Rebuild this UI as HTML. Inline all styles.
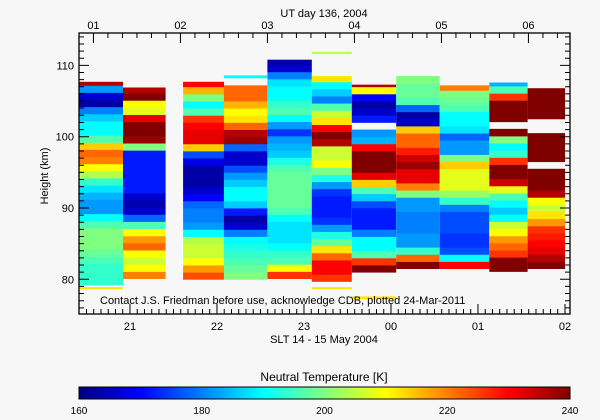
<!DOCTYPE html>
<html><head><meta charset="utf-8"><style>
body{margin:0;background:#f7f7f7;}
svg{display:block;font-family:"Liberation Sans",sans-serif;}
</style></head><body>
<svg id="chart" width="600" height="420" viewBox="0 0 600 420" xmlns="http://www.w3.org/2000/svg">
<rect width="600" height="420" fill="#f7f7f7"/>
<g id="cells"></g>
<g id="axes"></g>
<text x="100" y="304" font-size="11" fill="#000">Contact J.S. Friedman before use, acknowledge CDB, plotted 24-Mar-2011</text>
<text x="324" y="17" font-size="11" text-anchor="middle">UT day 136, 2004</text>
<text x="324" y="343" font-size="11" text-anchor="middle">SLT 14 - 15 May 2004</text>
<text x="48" y="176" font-size="11" text-anchor="middle" transform="rotate(-90 48 176)">Height (km)</text>
<text x="324" y="381" font-size="12" text-anchor="middle">Neutral Temperature [K]</text>
<defs><linearGradient id="jet" x1="0" x2="1" y1="0" y2="0">
<stop offset="0" stop-color="#000080"/><stop offset="0.125" stop-color="#0000ff"/><stop offset="0.375" stop-color="#00ffff"/><stop offset="0.625" stop-color="#ffff00"/><stop offset="0.875" stop-color="#ff0000"/><stop offset="1" stop-color="#800000"/>
</linearGradient></defs>
<rect x="79" y="387" width="491" height="12" fill="url(#jet)" stroke="#000" stroke-width="1"/>
<g id="cbticks"></g>
</svg>
<script>
// ---- data ----
const colStart = [20.414, 20.92, 21.61, 22.08, 22.58, 23.09, 23.55, 24.06, 24.56, 25.13, 25.57];
const colEnd   = [20.92, 21.41, 22.08, 22.58, 23.09, 23.55, 24.06, 24.56, 25.13, 25.57, 26.0];
const colBase  = [79.2, 80.1, 80.0, 80.0, 80.1, 79.7, 81.0, 81.5, 81.5, 81.1, 81.5];
const colTop   = [107.7, 106.9, 107.7, 107.2, 110.8, 108.5, 107.3, 108.5, 107.2, 107.6, 106.8];
const col0 = [194,194,194,196,198,200,200,200,196,190,182,182,184,188,194,204,210,220,222,214,196,190,190,186,180,163,166,182,236];
const col1 = [220,210,206,210,222,218,210,196,178,166,164,166,172,172,172,172,172,172,200,238,240,240,232,208,210,240,236];
const col2 = [224,218,210,206,206,204,190,182,180,180,178,170,166,163,163,163,168,176,214,232,232,230,226,196,190,200,216,230];
const col3 = [200,198,196,194,192,190,180,166,163,172,186,190,190,186,182,176,166,166,178,238,236,222,212,210,216,222,222,222];
const col4 = [226,210,196,194,190,188,188,188,190,196,198,198,198,198,198,196,192,186,184,182,174,182,190,196,194,190,190,188,180,166,163];
const col5 = [226,230,230,222,212,198,192,182,174,172,172,172,174,182,192,200,210,206,206,236,240,230,212,206,196,180,186,190,212];
const col6 = [240,226,196,190,190,180,172,172,172,176,186,196,214,232,240,240,240,230,184,182,null,172,166,163,170,210,236];
const col7 = [240,222,194,182,182,180,180,180,182,182,200,220,232,232,238,234,228,222,222,214,166,163,178,196,198,198,200];
const col8 = [230,190,176,174,174,176,176,176,180,194,202,208,208,208,214,200,182,182,178,188,190,190,196,198,200,220];
const col9 = [240,240,226,222,218,210,206,190,186,190,196,208,234,240,240,226,194,190,200,240,null,240,240,240,226,196,184];
const col10 = [240,236,232,230,228,226,218,212,206,210,236,240,240,240,null,240,240,240,240,null,null,240,240,240,240,240];
const columns = [col0,col1,col2,col3,col4,col5,col6,col7,col8,col9,col10];
// isolated thin segments: column index, bottom km, top km, temperature
const extraCol  = [0, 3, 5, 5, 6];
const extraBot  = [78.6, 108.2, 111.6, 78.6, 77.2];
const extraTopK = [78.9, 108.6, 111.9, 78.9, 77.6];
const extraVal  = [212, 190, 205, 212, 212];
const yTicks = [80, 90, 100, 110];
const sltLabels = ["21","22","23","00","01","02"];
const sltHours = [21,22,23,24,25,26];
const utLabels = ["01","02","03","04","05","06"];
const utHours = [20.58,21.58,22.58,23.58,24.58,25.58];
const cbTicks = [160,180,200,220,240];

// ---- scales ----
const X0=79, X1=570, Y0=33, Y1=314;
const H0=20.414, PXH=87;
function xs(h){return X0+(h-H0)*PXH;}
function ys(km){return 279.3-(km-80)*7.13;}
const TMIN=160, TMAX=240;
const stops=[[0,[0,0,128]],[0.125,[0,0,255]],[0.375,[0,255,255]],[0.625,[255,255,0]],[0.875,[255,0,0]],[1,[128,0,0]]];
function color(t){
  let f=Math.max(0,Math.min(1,(t-TMIN)/(TMAX-TMIN)));
  for(let i=1;i<stops.length;i++){
    if(f<=stops[i][0]){
      const a=stops[i-1],b=stops[i],u=(f-a[0])/(b[0]-a[0]);
      const c=a[1].map((v,k)=>Math.round(v+(b[1][k]-v)*u));
      return `rgb(${c[0]},${c[1]},${c[2]})`;
    }
  }
  return 'rgb(128,0,0)';
}
const NS='http://www.w3.org/2000/svg';
function mk(tag,attrs,parent){const e=document.createElementNS(NS,tag);for(const k in attrs)e.setAttribute(k,attrs[k]);parent.appendChild(e);return e;}
const cells=document.getElementById('cells');
columns.forEach((vals,ci)=>{
  const xa=xs(colStart[ci]), xb=xs(colEnd[ci]);
  vals.forEach((v,i)=>{
    if(v===null) return;
    const lo=colBase[ci]+i; const hi=Math.min(lo+1,colTop[ci]);
    if(hi<=lo) return;
    const r=mk('rect',{x:xa.toFixed(1),y:ys(hi).toFixed(2),width:(xb-xa).toFixed(1),height:(ys(lo)-ys(hi)+0.4).toFixed(2),fill:color(v)},cells);
    
    
  });
});
extraCol.forEach((ci,i)=>{
  const xa=xs(colStart[ci]), xb=xs(colEnd[ci]);
  const r=mk('rect',{x:xa.toFixed(1),y:ys(extraTopK[i]).toFixed(2),width:(xb-xa).toFixed(1),height:(ys(extraBot[i])-ys(extraTopK[i])).toFixed(2),fill:color(extraVal[i])},cells);
  
  
});
// ---- axes ----
const ax=document.getElementById('axes');
const frame=mk('rect',{x:X0,y:Y0,width:X1-X0,height:Y1-Y0,fill:'none',stroke:'#000','stroke-width':1.3},ax);


let p='';
for(let km=76;km<=114;km++){
  const y=ys(km); if(y<Y0||y>Y1) continue;
  const L=(km%10===0)?10:5;
  p+=`M${X0},${y}h${L}M${X1},${y}h${-L}`;
}
for(let h=20.5;h<=26.05;h+=1/12){
  const x=xs(h); if(x<X0||x>X1) continue;
  const maj=Math.abs(h-Math.round(h))<0.01;
  p+=`M${x},${Y1}v${maj?-10:-5}`;
}
for(let i=-1;i<7;i++){
  for(let k=0;k<6;k++){
    const x=xs(utHours[0]+i+k/6); if(x<X0||x>X1) continue;
    p+=`M${x},${Y0}v${k===0?10:5}`;
  }
}
const tk=mk('path',{d:p,stroke:'#000','stroke-width':1,fill:'none'},ax);


yTicks.forEach(v=>{
  const t=mk('text',{x:74,y:ys(v)+4,'font-size':11,'text-anchor':'end'},ax);t.textContent=v;
  
  
});
sltLabels.forEach((s,i)=>{
  const t=mk('text',{x:xs(sltHours[i]),y:330,'font-size':11,'text-anchor':'middle'},ax);t.textContent=s;
  
  
});
utLabels.forEach((s,i)=>{
  const t=mk('text',{x:xs(utHours[i]),y:29,'font-size':11,'text-anchor':'middle'},ax);t.textContent=s;
  
  
});
const cb=document.getElementById('cbticks');
cbTicks.forEach(v=>{
  const x=79+(v-TMIN)/(TMAX-TMIN)*491;
  const t=mk('text',{x:x,y:414,'font-size':10,'text-anchor':'middle'},cb);t.textContent=v;
  
  
});
</script>
</body></html>
